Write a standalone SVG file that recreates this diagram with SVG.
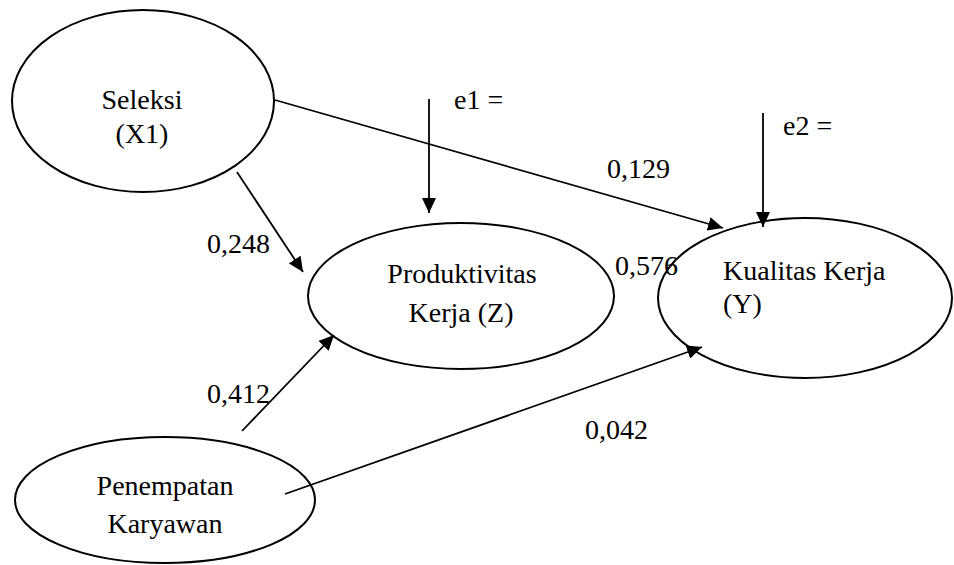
<svg xmlns="http://www.w3.org/2000/svg" width="954" height="565" viewBox="0 0 954 565">
<style>
.node ellipse{fill:#fff;stroke:#000;stroke-width:2}
text{font-family:"Liberation Serif","Times New Roman",serif;font-size:28px;fill:#000}
.c{text-anchor:middle}
#connectors line{stroke:#000;stroke-width:1.8;marker-end:url(#arr)}
</style>
<defs>
<marker id="arr" markerUnits="userSpaceOnUse" markerWidth="16" markerHeight="14" refX="15" refY="7" orient="auto">
<path d="M0,0 L15,7 L0,14 z" fill="#000"/>
</marker>
</defs>
<rect width="954" height="565" fill="#fff"/>
<g id="seleksi" class="node">
<ellipse cx="143" cy="101" rx="131" ry="91"/>
<text class="c" x="142" y="109">Seleksi</text>
<text class="c" x="142" y="143">(X1)</text>
</g>
<g id="produktivitas" class="node">
<ellipse cx="461" cy="296" rx="153" ry="73"/>
<text class="c" x="462" y="283">Produktivitas</text>
<text class="c" x="461" y="322">Kerja (Z)</text>
</g>
<g id="kualitas" class="node">
<ellipse cx="805" cy="298" rx="147" ry="80"/>
<text x="723" y="280">Kualitas Kerja</text>
<text x="723" y="313">(Y)</text>
</g>
<g id="penempatan" class="node">
<ellipse cx="165" cy="500" rx="150" ry="63"/>
<text class="c" x="165" y="495">Penempatan</text>
<text class="c" x="165" y="533">Karyawan</text>
</g>
<g id="connectors">
<line x1="275" y1="100" x2="723" y2="228"/>
<line x1="237" y1="172" x2="303" y2="272"/>
<line x1="429" y1="99" x2="429" y2="213"/>
<line x1="763" y1="113" x2="763" y2="227"/>
<line x1="242" y1="431" x2="334" y2="335"/>
<line x1="285" y1="494" x2="702" y2="347"/>
</g>
<g id="labels">
<text x="454" y="109">e1 =</text>
<text x="783" y="135">e2 =</text>
<text x="607" y="178">0,129</text>
<text x="207" y="253">0,248</text>
<text x="615" y="275">0,576</text>
<text x="207" y="403">0,412</text>
<text x="585" y="439">0,042</text>
</g>
</svg>
